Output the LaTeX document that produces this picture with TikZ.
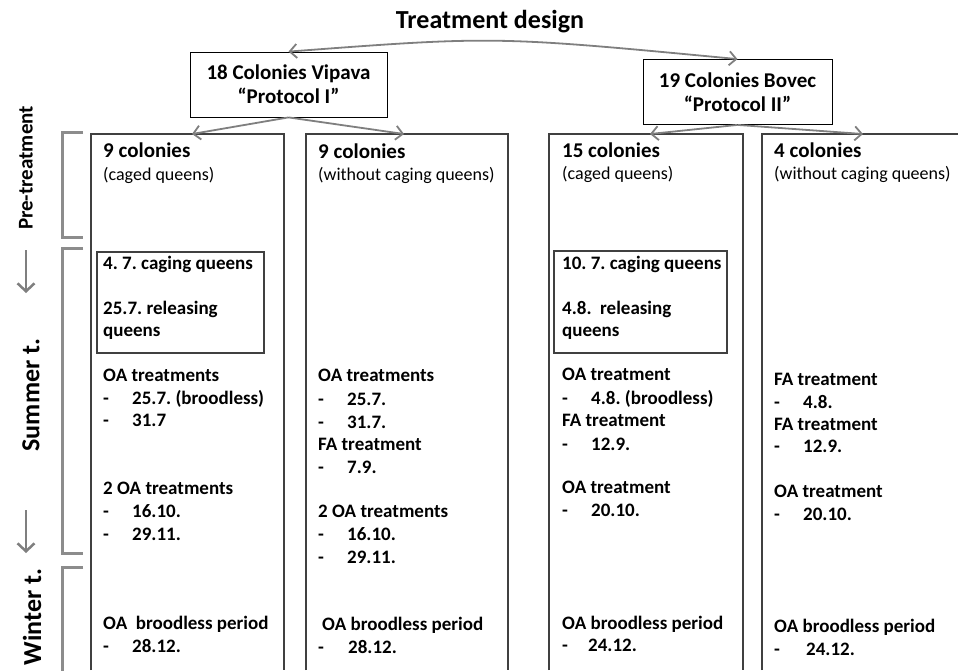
\documentclass[tikz,border=0pt]{standalone}
\usepackage{fontspec}
\setmainfont{Carlito}
\usetikzlibrary{arrows.meta}

\definecolor{linegray}{HTML}{404040}
\definecolor{arrowgray}{HTML}{7F7F7F}
\definecolor{bracketgray}{HTML}{8C8C8C}

\newcommand{\dashdate}[2][29pt]{\makebox[#1][l]{-}#2}
\frenchspacing

\begin{document}
\begin{tikzpicture}[x=1pt, y=-1pt, >={Straight Barb[length=7pt, width=14pt]},
  title/.style={inner sep=0pt, font=\fontsize{26}{30}\selectfont\bfseries},
  protocol/.style={draw, line width=0.8pt, align=center, minimum height=65pt, font=\fontsize{21}{24}\selectfont\bfseries},
  textline/.style={anchor=west, inner sep=0pt, text height=0.7em, text depth=0.2em},
  head/.style={textline, font=\fontsize{21}{24}\selectfont\bfseries},
  sub/.style={textline, font=\fontsize{18}{21}\selectfont},
  txt/.style={textline, font=\fontsize{19}{22}\selectfont\bfseries},
  period/.style={rotate=90, inner sep=0pt},
  colbox/.style={draw=linegray, line width=1.2pt},
  cagebox/.style={draw=linegray, line width=2.6pt},
  bracket/.style={draw=bracketgray, line width=3pt},
  arr/.style={draw=arrowgray, line width=1.8pt},
  down/.style={draw=arrowgray, line width=2.5pt, -{Straight Barb[length=8pt, width=17pt]}}]

  \useasboundingbox (0,0) rectangle (958,670);

  % title and the two sites
  \node[title] (design) at (490,22) {Treatment design};
  \node[protocol, minimum width=197pt] (vipava) at (288.5,84.5) {18 Colonies Vipava\\“Protocol I”};
  \node[protocol, minimum width=189pt] (bovec) at (737.5,92) {19 Colonies Bovec\\“Protocol II”};

  \draw[arr, <->] (vipava.north) .. controls (495,36) .. (bovec.north);

  % columns
  \draw[colbox] (91,670) -- (91,134) -- (284,134) -- (284,670);
  \draw[colbox] (306,670) -- (306,134) -- (508,134) -- (508,670);
  \draw[colbox] (549,670) -- (549,134) -- (743,134) -- (743,670);
  \draw[colbox] (762,670) -- (762,134) -- (958,134);

  \coordinate (col1) at (192,134);
  \coordinate (col2) at (404,134);
  \coordinate (col3) at (650,134);
  \coordinate (col4) at (863,134);

  \draw[arr, ->] (vipava.south) -- (col1);
  \draw[arr, ->] (vipava.south) -- (col2);
  \draw[arr, ->] (bovec.south) -- (col3);
  \draw[arr, ->] (bovec.south) -- (col4);

  % caging boxes
  \draw[cagebox] (97,252) rectangle (264,353);
  \draw[cagebox] (554,251) rectangle (727,353);

  % periods on the left
  \draw[bracket] (83,132) -- (62,132) -- (62,237) -- (83,237);
  \draw[bracket] (83,248) -- (62,248) -- (62,553) -- (83,553);
  \draw[bracket] (83,567) -- (62,567) -- (62,680);

  \node[period, font=\fontsize{21}{24}\selectfont\bfseries] (pre) at (26,168) {Pre-treatment};
  \node[period, font=\fontsize{26}{30}\selectfont\bfseries] (summer) at (31,395) {Summer t.};
  \node[period, font=\fontsize{26}{30}\selectfont\bfseries] (winter) at (32,617) {Winter t.};

  \coordinate (down1a) at (26,250);
  \coordinate (down1b) at (26,293);
  \coordinate (down2a) at (26,510);
  \coordinate (down2b) at (26,553);
  \draw[down] (down1a) -- (down1b);
  \draw[down] (down2a) -- (down2b);

  % column 1
  \node[head] (c1head) at (103,155) {9 colonies};
  \node[sub] (c1sub) at (103,178) {(caged queens)};
  \node[txt] (c1cage) at (103,267) {4. 7. caging queens};
  \node[txt] (c1rel) at (103,312) {25.7. releasing};
  \node[txt] (c1q) at (103,334) {queens};
  \node[txt] (c1oa) at (103,379) {OA treatments};
  \node[txt] (c1d1) at (103,402) {\dashdate{25.7. (broodless)}};
  \node[txt] (c1d2) at (103,424) {\dashdate{31.7}};
  \node[txt] (c1oa2) at (103,492) {2 OA treatments};
  \node[txt] (c1d3) at (103,515) {\dashdate{16.10.}};
  \node[txt] (c1d4) at (103,538) {\dashdate{29.11.}};
  \node[txt] (c1win) at (103,627) {OA\ \ broodless period};
  \node[txt] (c1d5) at (103,650) {\dashdate{28.12.}};

  % column 2
  \node[head] (c2head) at (318,156) {9 colonies};
  \node[sub] (c2sub) at (318,178) {(without caging queens)};
  \node[txt] (c2oa) at (318,379) {OA treatments};
  \node[txt] (c2d1) at (318,403) {\dashdate[29pt]{25.7.}};
  \node[txt] (c2d2) at (318,426) {\dashdate[29pt]{31.7.}};
  \node[txt] (c2fa) at (318,448) {FA treatment};
  \node[txt] (c2d3) at (318,471) {\dashdate[29pt]{7.9.}};
  \node[txt] (c2oa2) at (318,515) {2 OA treatments};
  \node[txt] (c2d4) at (318,538) {\dashdate[29pt]{16.10.}};
  \node[txt] (c2d5) at (318,561) {\dashdate[29pt]{29.11.}};
  \node[txt] (c2win) at (322,628) {OA broodless period};
  \node[txt] (c2d6) at (318,651) {\dashdate[30pt]{28.12.}};

  % column 3
  \node[head] (c3head) at (562,155) {15 colonies};
  \node[sub] (c3sub) at (562,177) {(caged queens)};
  \node[txt] (c3cage) at (562,267) {10. 7. caging queens};
  \node[txt] (c3rel) at (562,312) {4.8.\ \ releasing};
  \node[txt] (c3q) at (562,334) {queens};
  \node[txt] (c3oa) at (562,378) {OA treatment};
  \node[txt] (c3d1) at (562,402) {\dashdate{4.8. (broodless)}};
  \node[txt] (c3fa) at (562,424) {FA treatment};
  \node[txt] (c3d2) at (562,448) {\dashdate{12.9.}};
  \node[txt] (c3oa2) at (562,491) {OA treatment};
  \node[txt] (c3d3) at (562,514) {\dashdate{20.10.}};
  \node[txt] (c3win) at (562,627) {OA broodless period};
  \node[txt] (c3d4) at (562,649) {\dashdate[26pt]{24.12.}};

  % column 4
  \node[head] (c4head) at (774,155) {4 colonies};
  \node[sub] (c4sub) at (774,177) {(without caging queens)};
  \node[txt] (c4fa) at (774,383) {FA treatment};
  \node[txt] (c4d1) at (774,406) {\dashdate{4.8.}};
  \node[txt] (c4fa2) at (774,428) {FA treatment};
  \node[txt] (c4d2) at (774,450) {\dashdate{12.9.}};
  \node[txt] (c4oa) at (774,495) {OA treatment};
  \node[txt] (c4d3) at (774,518) {\dashdate{20.10.}};
  \node[txt] (c4win) at (774,630) {OA broodless period};
  \node[txt] (c4d4) at (774,653) {\dashdate[32pt]{24.12.}};
\end{tikzpicture}
\end{document}
